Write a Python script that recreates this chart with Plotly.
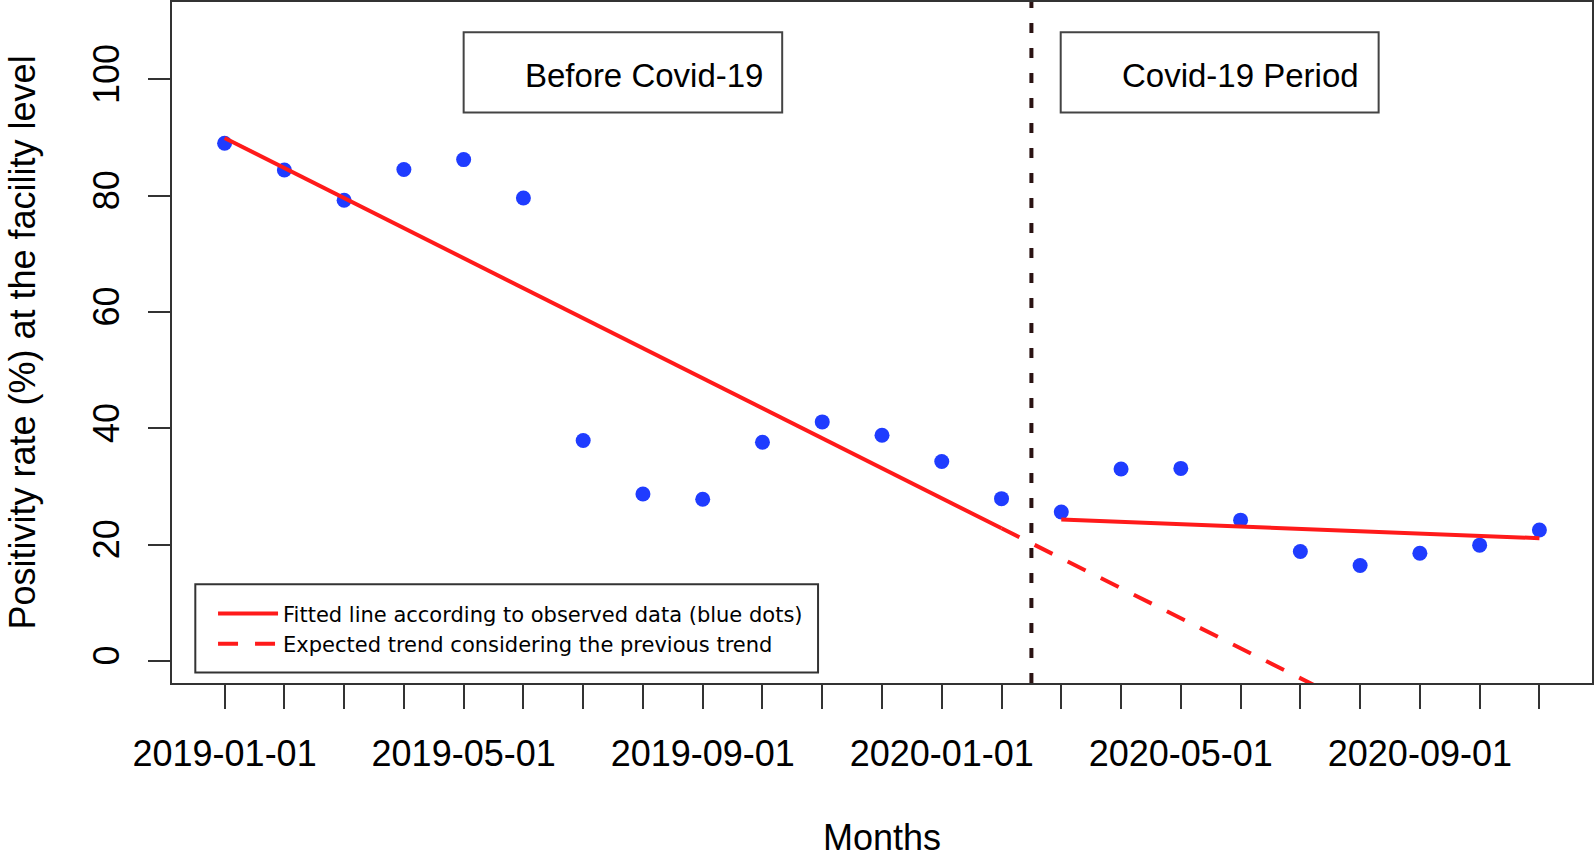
import plotly.graph_objects as go

# ---------------- data ----------------
months = [
    "2019-01-01", "2019-02-01", "2019-03-01", "2019-04-01", "2019-05-01", "2019-06-01",
    "2019-07-01", "2019-08-01", "2019-09-01", "2019-10-01", "2019-11-01", "2019-12-01",
    "2020-01-01", "2020-02-01", "2020-03-01", "2020-04-01", "2020-05-01", "2020-06-01",
    "2020-07-01", "2020-08-01", "2020-09-01", "2020-10-01", "2020-11-01",
]
positivity = [
    89.0, 84.4, 79.2, 84.5, 86.2, 79.6,
    37.9, 28.7, 27.8, 37.6, 41.1, 38.8,
    34.3, 27.9, 25.6, 33.0, 33.1, 24.2,
    18.8, 16.4, 18.5, 19.9, 22.5,
]
label_months = ["2019-01-01", "2019-05-01", "2019-09-01", "2020-01-01", "2020-05-01", "2020-09-01"]
y_ticks = [0, 20, 40, 60, 80, 100]

# fitted / expected trend lines (end points)
pre_fit_months = ["2019-01-01", "2020-02-01"]
pre_fit_values = [89.9, 22.8]
expected_months = ["2020-02-01", "2020-11-01"]
expected_values = [22.8, -23.6]
post_fit_months = ["2020-03-01", "2020-11-01"]
post_fit_values = [24.3, 21.1]

last_before = "2020-02-01"
first_covid = "2020-03-01"

x_title = "Months"
y_title = "Positivity rate (%) at the facility level"
period_labels = ["Before Covid-19", "Covid-19 Period"]
legend_labels = ["Fitted line according to observed data (blue dots)",
                 "Expected trend considering the previous trend"]

# ---------------- helpers ----------------
idx = {m: i for i, m in enumerate(months)}
x_all = [idx[m] for m in months]
ticktext = [m if m in label_months else "" for m in months]
covid_x = (idx[last_before] + idx[first_covid]) / 2

FONT = "Liberation Sans, Arial, Helvetica, sans-serif"
RED = "#ff1a1a"
BLUE = "#1f3cff"
AX = "#333333"

fig = go.Figure()

fig.add_trace(go.Scatter(
    x=x_all, y=positivity, mode="markers",
    marker=dict(color=BLUE, size=15, line=dict(width=0)),
    showlegend=False, name="Observed"))

fig.add_trace(go.Scatter(
    x=[idx[m] for m in pre_fit_months], y=pre_fit_values, mode="lines",
    line=dict(color=RED, width=4), name=legend_labels[0], legendgroup="fit"))

fig.add_trace(go.Scatter(
    x=[idx[m] for m in expected_months], y=expected_values, mode="lines",
    line=dict(color=RED, width=4, dash="20px,17px"), name=legend_labels[1]))

fig.add_trace(go.Scatter(
    x=[idx[m] for m in post_fit_months], y=post_fit_values, mode="lines",
    line=dict(color=RED, width=4), name=legend_labels[0], legendgroup="fit",
    showlegend=False))

# vertical separator between periods
fig.add_shape(type="line", xref="x", yref="paper", x0=covid_x, x1=covid_x, y0=0, y1=1,
              line=dict(color="#2b1313", width=4, dash="10px,15px"))

# period label boxes
box_specs = [(4.0, 9.33, 9.05), (13.99, 19.31, 19.01)]
for (bx0, bx1, tx), lab in zip(box_specs, period_labels):
    fig.add_shape(type="rect", xref="x", yref="y", x0=bx0, x1=bx1, y0=94.3, y1=108.1,
                  line=dict(color="#444444", width=2), fillcolor="white")
    fig.add_annotation(x=tx, y=100.6, xref="x", yref="y", text=lab, showarrow=False,
                       xanchor="right", yanchor="middle",
                       font=dict(family=FONT, size=33, color="black"))

# legend frame
fig.add_shape(type="rect", xref="x", yref="y", x0=-0.49, x1=9.93, y0=-2.0, y1=13.2,
              line=dict(color="#333333", width=2), fillcolor="white", layer="below")

# axis titles
fig.add_annotation(x=0.5, y=-0.2276, xref="paper", yref="paper", text=x_title,
                   showarrow=False, xanchor="center", yanchor="middle", borderpad=0,
                   font=dict(family=FONT, size=36, color="black"))
fig.add_annotation(x=-0.1056, y=0.5, xref="paper", yref="paper", text=y_title,
                   showarrow=False, xanchor="center", yanchor="middle", textangle=-90,
                   borderpad=0, font=dict(family=FONT, size=36, color="black"))

fig.update_layout(
    width=1594, height=859,
    margin=dict(l=172, r=2, t=2, b=176, autoexpand=False),
    paper_bgcolor="white", plot_bgcolor="white",
    font=dict(family=FONT, color="black"),
    showlegend=True,
    legend=dict(x=0.0289, y=0.1317, xanchor="left", yanchor="top",
                bgcolor="rgba(0,0,0,0)", borderwidth=0,
                font=dict(family="DejaVu Sans, Liberation Sans, sans-serif", size=21, color="black"),
                itemwidth=60, tracegroupgap=0),
    xaxis=dict(range=[-0.88, 22.88], tickmode="array", tickvals=x_all, ticktext=ticktext,
               ticks="outside", ticklen=24, tickwidth=2, tickcolor=AX,
               showline=True, linecolor=AX, linewidth=2, mirror=True,
               showgrid=False, zeroline=False, automargin=False,
               tickfont=dict(family=FONT, size=36, color="black"),
               ticklabelstandoff=14),
    yaxis=dict(range=[-3.8, 113.3], tickmode="array", tickvals=y_ticks,
               ticks="outside", ticklen=22, tickwidth=2, tickcolor=AX,
               showline=True, linecolor=AX, linewidth=2, mirror=True,
               showgrid=False, zeroline=False, tickangle=-90, automargin=False,
               tickfont=dict(family=FONT, size=36, color="black"),
               ticklabelstandoff=15),
)

fig.write_html(
    "out.html",
    config={"displayModeBar": False},
    post_script="document.body.style.margin='0';document.body.style.overflow='hidden';",
)
